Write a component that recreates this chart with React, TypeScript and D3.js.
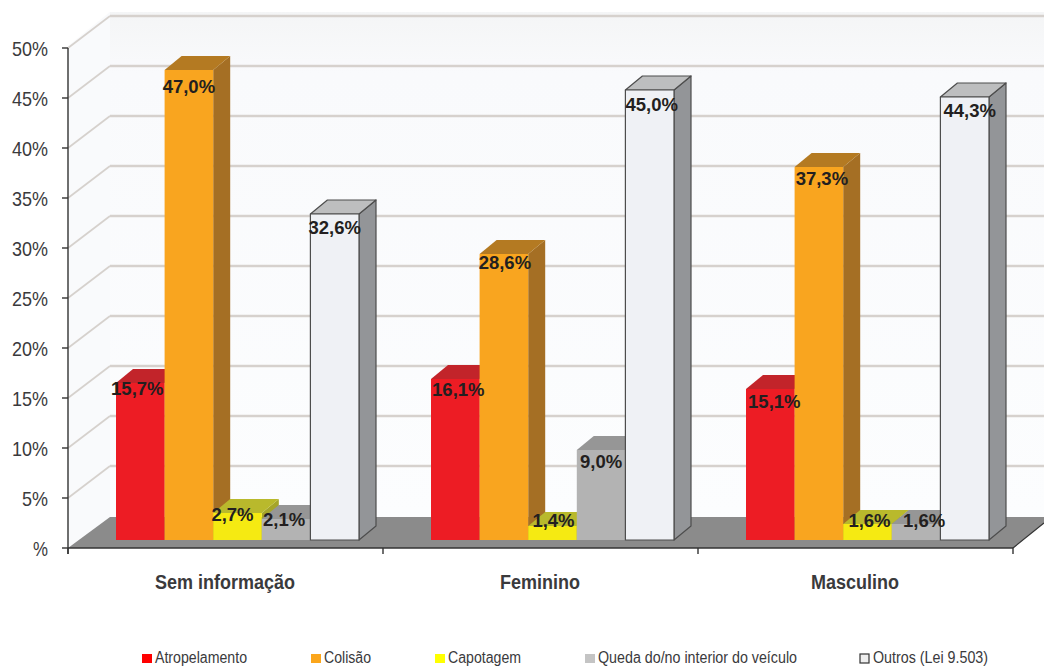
import React from "react";
import * as d3 from "d3";

const categories = ["Sem informação", "Feminino", "Masculino"];
const seriesNames = ["Atropelamento", "Colisão", "Capotagem", "Queda do/no interior do veículo", "Outros (Lei 9.503)"];
const atropelamento = [15.7, 16.1, 15.1];
const colisao = [47.0, 28.6, 37.3];
const capotagem = [2.7, 1.4, 1.6];
const queda = [2.1, 9.0, 1.6];
const outros = [32.6, 45.0, 44.3];
const yTicks = [0, 5, 10, 15, 20, 25, 30, 35, 40, 45, 50];

const seriesValues = [atropelamento, colisao, capotagem, queda, outros];

// Front, top and side shades of each series, plus its legend swatch.
const palette = [
  { front: "#ed1c24", top: "#c2242a", side: "#a8282a", key: "#ff0000" },
  { front: "#f9a51f", top: "#b47a22", side: "#a56f24", key: "#fba61c" },
  { front: "#f5ea12", top: "#b9b92c", side: "#a5a52a", key: "#ffff00" },
  { front: "#b3b3b3", top: "#969696", side: "#8a8a8a", key: "#c4c4c4" },
  { front: "#eff1f5", top: "#bdbebf", side: "#939598", key: "#eeeeee" },
];

// Hand-placed label nudges (dx, dy from the bar's top-centre), one row per category.
const labelNudges = [
  [[-3, 5], [0, 16], [-5, 1], [-2, 0], [0, 13]],
  [[3, 10], [1, 8], [1, -6], [0, 11], [2, 14]],
  [[4, 12], [3, 11], [2, -4], [8, -4], [5, 13]],
];

const DEPTH_X = 42;
const DEPTH_Y = 32;
const BAR_DX = 17;
const BAR_DY = 14;
const FRONT_BASE = 548;
const BAR_BASE = 540;
const AXIS_LEFT = 68;
const AXIS_RIGHT = 1013;

const heightScale = d3.scaleLinear().domain([0, 50]).range([0, 500]);
const groupScale = d3.scaleBand<string>().domain(categories).range([AXIS_LEFT, AXIS_RIGHT]);
const barScale = d3
  .scaleBand<number>()
  .domain(seriesNames.map((_, i) => i))
  .range([48, 291]);

const pct = (v: number) => d3.format(".1f")(v).replace(".", ",") + "%";
const poly = (pts: [number, number][]) => pts.map((p) => p.join(",")).join(" ");

const labelFont = "'Liberation Sans', Arial, sans-serif";

const legendLayout = [
  { swatch: 142, text: 155, width: 92 },
  { swatch: 311, text: 324, width: 47 },
  { swatch: 435, text: 448, width: 73 },
  { swatch: 585, text: 598, width: 199 },
  { swatch: 860, text: 873, width: 115 },
];

export default function App() {
  const backY = (v: number) => FRONT_BASE - heightScale(v) - DEPTH_Y;
  const frontY = (v: number) => FRONT_BASE - heightScale(v);
  const backLeft = AXIS_LEFT + DEPTH_X;

  return (
    <svg
      width={1044}
      height={668}
      viewBox="0 0 1044 668"
      style={{ position: "absolute", left: 0, top: 0, display: "block", background: "#fff" }}
    >
      <defs>
        <linearGradient id="wall" x1="0" y1="0" x2="0" y2="1">
          <stop offset="0" stopColor="#f4f5f6" />
          <stop offset="0.12" stopColor="#f9fafc" />
          <stop offset="1" stopColor="#fcfdfe" />
        </linearGradient>
      </defs>

      {/* Back wall and left wall */}
      <rect x={backLeft} y={12} width={1044 - backLeft} height={508} fill="url(#wall)" />
      <polygon points={poly([[AXIS_LEFT, 46], [backLeft, 12], [backLeft, 520], [AXIS_LEFT, 548]])} fill="#f9fafc" />

      {/* Gridlines on both walls */}
      {yTicks.slice(1).map((t) => (
        <g key={t} fill="none" stroke="#d6d1cd" strokeWidth={2.4}>
          <line x1={AXIS_LEFT} y1={frontY(t)} x2={backLeft} y2={backY(t)} strokeWidth={1.8} />
          <line x1={backLeft} y1={backY(t)} x2={1044} y2={backY(t)} />
        </g>
      ))}

      {/* Floor */}
      <polygon
        points={poly([[AXIS_LEFT, FRONT_BASE], [backLeft, FRONT_BASE - DEPTH_Y + 1], [1044, FRONT_BASE - DEPTH_Y + 1], [1044, 523], [AXIS_RIGHT, FRONT_BASE]])}
        fill="#8b8b8b"
      />

      {/* Bars, left to right so each one hides its neighbour's side face */}
      {categories.map((cat, c) => (
        <g key={cat}>
          {seriesValues.map((vals, s) => {
            const x0 = (groupScale(cat) as number) + (barScale(s) as number);
            const x1 = x0 + barScale.bandwidth();
            const top = BAR_BASE - heightScale(vals[c]);
            const col = palette[s];
            const outline = s === 4 ? { stroke: "#4d4d4d", strokeWidth: 1.2, strokeLinejoin: "round" as const } : {};
            return (
              <g key={s}>
                <polygon
                  points={poly([[x1, top], [x1 + BAR_DX, top - BAR_DY], [x1 + BAR_DX, BAR_BASE - BAR_DY], [x1, BAR_BASE]])}
                  fill={col.side}
                  {...outline}
                />
                <polygon
                  points={poly([[x0, top], [x0 + BAR_DX, top - BAR_DY], [x1 + BAR_DX, top - BAR_DY], [x1, top]])}
                  fill={col.top}
                  {...outline}
                />
                <rect x={x0} y={top} width={x1 - x0} height={BAR_BASE - top} fill={col.front} {...outline} />
              </g>
            );
          })}
        </g>
      ))}

      {/* Value labels above all bars */}
      {categories.map((cat, c) =>
        seriesValues.map((vals, s) => {
          const x = (groupScale(cat) as number) + (barScale(s) as number) + barScale.bandwidth() / 2;
          const [dx, dy] = labelNudges[c][s];
          return (
            <text
              key={`${c}-${s}`}
              x={x + dx}
              y={BAR_BASE - heightScale(vals[c]) + dy}
              dy="0.36em"
              textAnchor="middle"
              fontFamily={labelFont}
              fontWeight="bold"
              fontSize={18.5}
              fill="#231f20"
            >
              {pct(vals[c])}
            </text>
          );
        })
      )}

      {/* Value axis */}
      <line x1={AXIS_LEFT} y1={frontY(50)} x2={AXIS_LEFT} y2={FRONT_BASE + 6} stroke="#333" strokeWidth={1.4} />
      {yTicks.map((t) => {
        const label = t === 0 ? "%" : `${t}%`;
        return (
          <g key={t}>
            <line x1={AXIS_LEFT - 6} y1={frontY(t)} x2={AXIS_LEFT} y2={frontY(t)} stroke="#333" strokeWidth={1.4} />
            <text
              x={48}
              y={frontY(t)}
              dy="0.36em"
              textAnchor="end"
              fontFamily={labelFont}
              fontSize={21}
              fill="#3a3a3c"
              textLength={label.length === 3 ? 36 : label.length === 2 ? 26 : 15}
              lengthAdjust="spacingAndGlyphs"
            >
              {label}
            </text>
          </g>
        );
      })}

      {/* Category axis */}
      <line x1={AXIS_LEFT} y1={FRONT_BASE} x2={AXIS_RIGHT} y2={FRONT_BASE} stroke="#333" strokeWidth={1.4} />
      <line x1={AXIS_RIGHT} y1={FRONT_BASE} x2={1044} y2={523} stroke="#333" strokeWidth={1.2} />
      {[AXIS_LEFT, ...categories.map((c) => (groupScale(c) as number) + groupScale.bandwidth())].map((x) => (
        <line key={x} x1={x} y1={FRONT_BASE} x2={x} y2={FRONT_BASE + 6} stroke="#333" strokeWidth={1.4} />
      ))}
      {categories.map((cat, i) => (
        <text
          key={cat}
          x={[225, 540, 855][i]}
          y={589}
          textAnchor="middle"
          fontFamily={labelFont}
          fontWeight="bold"
          fontSize={20}
          fill="#3a3a3c"
          textLength={[140, 80, 88][i]}
          lengthAdjust="spacingAndGlyphs"
        >
          {cat}
        </text>
      ))}

      {/* Legend */}
      {seriesNames.map((name, s) => {
        const l = legendLayout[s];
        return (
          <g key={name}>
            <rect
              x={l.swatch}
              y={654}
              width={s === 4 ? 9 : 10}
              height={9}
              fill={palette[s].key}
              stroke={s === 4 ? "#333" : "none"}
              strokeWidth={1.2}
            />
            <text
              x={l.text}
              y={663}
              fontFamily={labelFont}
              fontSize={16}
              fill="#3a3a3c"
              textLength={l.width}
              lengthAdjust="spacingAndGlyphs"
            >
              {name}
            </text>
          </g>
        );
      })}
    </svg>
  );
}
